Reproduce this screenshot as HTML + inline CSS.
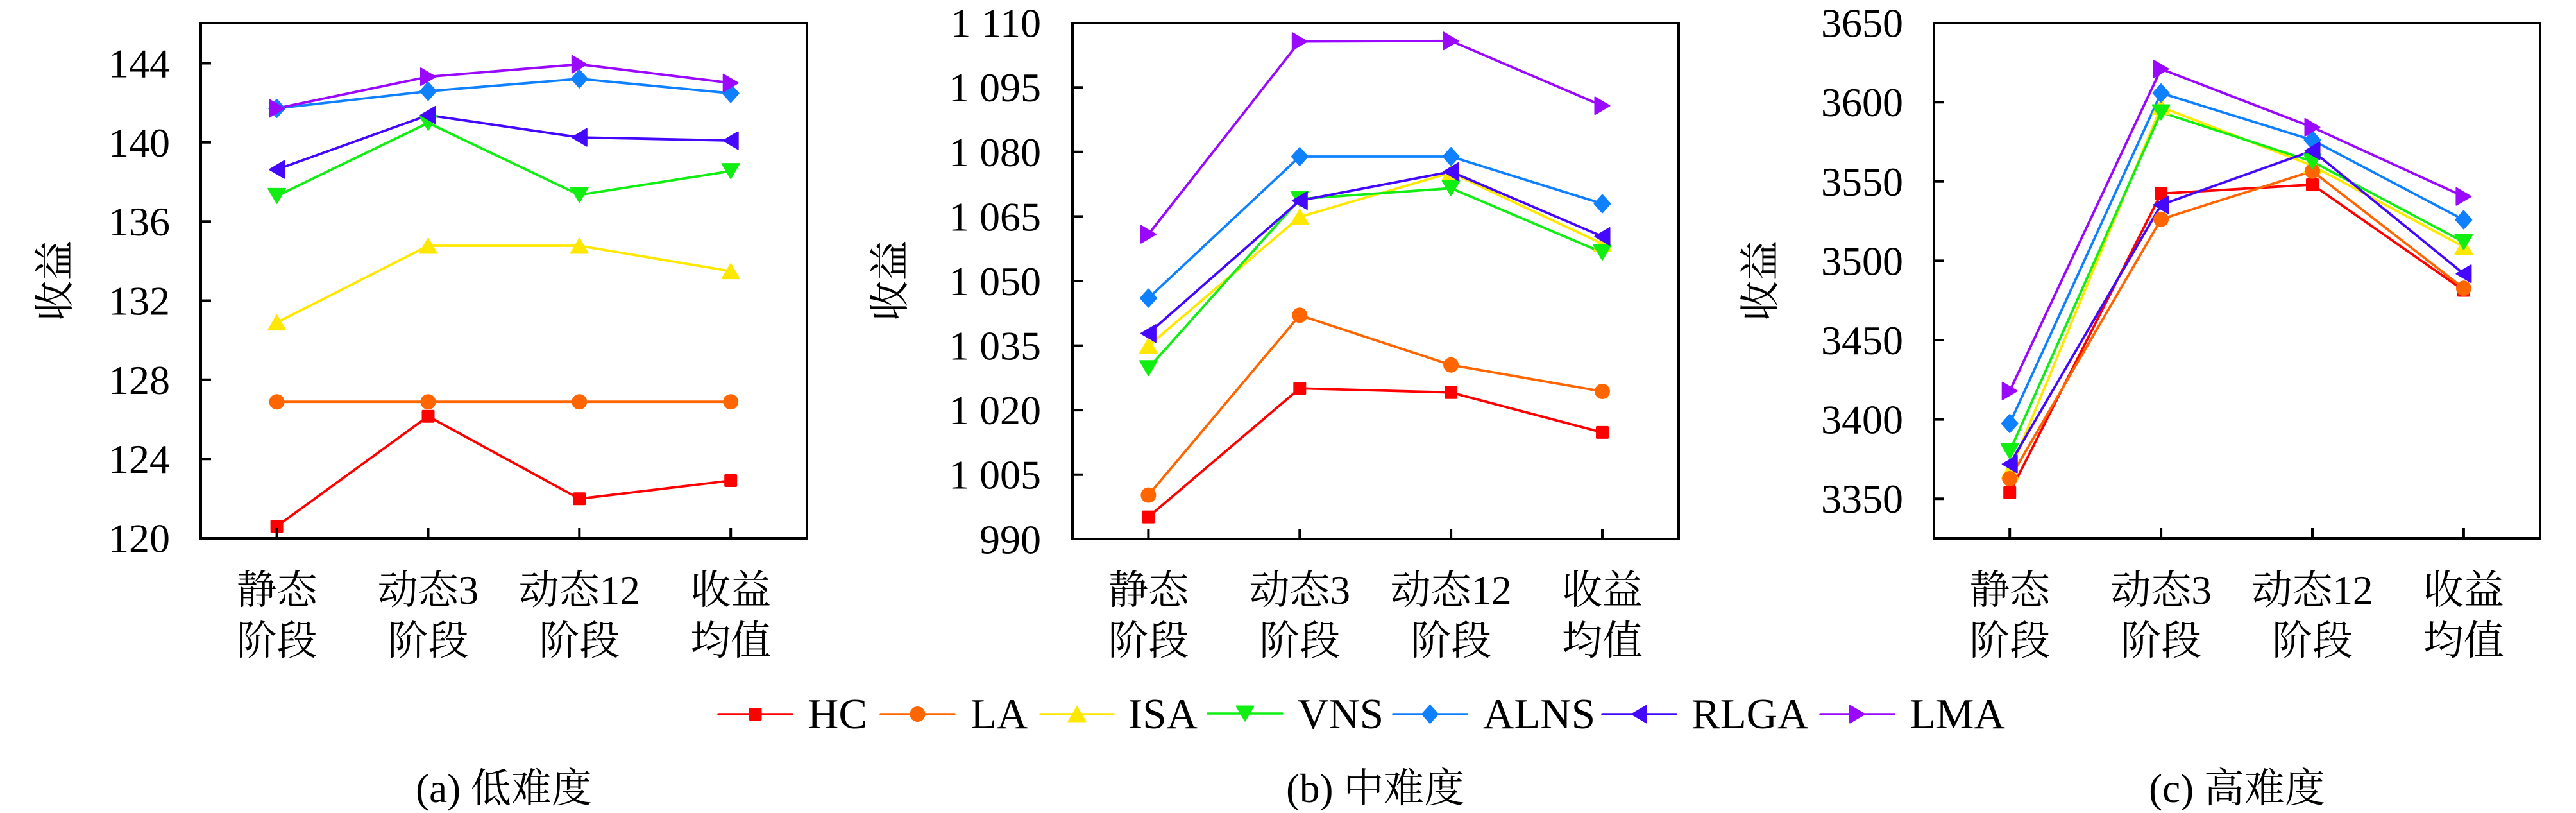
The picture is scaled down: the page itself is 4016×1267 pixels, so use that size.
<!DOCTYPE html>
<html>
<head>
<meta charset="utf-8">
<style>
html,body{margin:0;padding:0;background:#fff;}
svg{display:block;}
svg text{font-family:"Liberation Serif","Times New Roman",Times,Tinos,"Nimbus Roman","DejaVu Serif","Noto Serif CJK SC",serif;}
svg .cj{font-family:"Liberation Serif","Times New Roman",Times,Tinos,"Noto Serif CJK SC","Noto Sans CJK SC",serif;}
</style>
</head>
<body>
<svg width="4016" height="1267" viewBox="0 0 4016 1267" xmlns="http://www.w3.org/2000/svg">
<defs>
  <rect id="mHC" x="-10" y="-10" width="20" height="20" rx="2" fill="#ff0000"/>
  <circle id="mLA" cx="0" cy="0" r="12" fill="#ff6600"/>
  <polygon id="mISA" points="0,-11.5 -13.5,11.5 13.5,11.5" fill="#ffe800" stroke="#ffe800" stroke-width="2" stroke-linejoin="round"/>
  <polygon id="mVNS" points="-13.5,-11.5 13.5,-11.5 0,11.5" fill="#11ee11" stroke="#11ee11" stroke-width="2" stroke-linejoin="round"/>
  <polygon id="mALNS" points="0,-14 12.5,0 0,14 -12.5,0" fill="#0f80ff" stroke="#0f80ff" stroke-width="2" stroke-linejoin="round"/>
  <polygon id="mRLGA" points="-11.5,0 11.5,-13.5 11.5,13.5" fill="#4408ff" stroke="#4408ff" stroke-width="2" stroke-linejoin="round"/>
  <polygon id="mLMA" points="11.5,0 -11.5,-13.5 -11.5,13.5" fill="#9a08ff" stroke="#9a08ff" stroke-width="2" stroke-linejoin="round"/>
</defs>

<g fill="none" stroke-width="3.8" stroke-linejoin="round" stroke-linecap="round">
<polyline stroke="#ff0000" points="431.6,820.1 667.5,648.8 903.3,777.3 1139.2,749"/>
<polyline stroke="#ff6600" points="431.6,626.2 667.5,626.2 903.3,626.2 1139.2,626.2"/>
<polyline stroke="#ffe800" points="431.6,502.6 667.5,383 903.3,383 1139.2,422.6"/>
<polyline stroke="#11ee11" points="431.6,305.4 667.5,191.5 903.3,303.8 1139.2,266.6"/>
<polyline stroke="#0f80ff" points="431.6,168.9 667.5,142.2 903.3,122.8 1139.2,145.4"/>
<polyline stroke="#4408ff" points="431.6,264.2 667.5,179.4 903.3,214.1 1139.2,219"/>
<polyline stroke="#9a08ff" points="431.6,168.9 667.5,119.6 903.3,100.2 1139.2,129.3"/>

<polyline stroke="#ff0000" points="1790.4,805.6 2026.3,605.2 2262.1,611.7 2498,673.9"/>
<polyline stroke="#ff6600" points="1790.4,771.6 2026.3,491.3 2262.1,568.8 2498,610"/>
<polyline stroke="#ffe800" points="1790.4,539 2026.3,338 2262.1,269.1 2498,379.8"/>
<polyline stroke="#11ee11" points="1790.4,573.7 2026.3,310 2262.1,293.3 2498,393.5"/>
<polyline stroke="#0f80ff" points="1790.4,464.6 2026.3,244 2262.1,244 2498,317.5"/>
<polyline stroke="#4408ff" points="1790.4,519.6 2026.3,312.7 2262.1,267.5 2498,368.5"/>
<polyline stroke="#9a08ff" points="1790.4,365.2 2026.3,64.6 2262.1,63.8 2498,164.8"/>

<polyline stroke="#ff0000" points="3133.2,767.7 3369.1,301.7 3605,287.7 3840.9,452.5"/>
<polyline stroke="#ff6600" points="3133.2,746 3369.1,341.7 3605,266.7 3840.9,449.3"/>
<polyline stroke="#ffe800" points="3133.2,735 3369.1,166.7 3605,258.3 3840.9,384.6"/>
<polyline stroke="#11ee11" points="3133.2,703.3 3369.1,175 3605,251.7 3840.9,377.3"/>
<polyline stroke="#0f80ff" points="3133.2,660 3369.1,145 3605,218.3 3840.9,342.6"/>
<polyline stroke="#4408ff" points="3133.2,723.3 3369.1,319.3 3605,235 3840.9,426.6"/>
<polyline stroke="#9a08ff" points="3133.2,609.3 3369.1,107.5 3605,198.3 3840.9,306.2"/>
</g>

<use href="#mHC" x="431.6" y="820.1"/><use href="#mHC" x="667.5" y="648.8"/><use href="#mHC" x="903.3" y="777.3"/><use href="#mHC" x="1139.2" y="749"/>
<use href="#mLA" x="431.6" y="626.2"/><use href="#mLA" x="667.5" y="626.2"/><use href="#mLA" x="903.3" y="626.2"/><use href="#mLA" x="1139.2" y="626.2"/>
<use href="#mISA" x="431.6" y="502.6"/><use href="#mISA" x="667.5" y="383"/><use href="#mISA" x="903.3" y="383"/><use href="#mISA" x="1139.2" y="422.6"/>
<use href="#mVNS" x="431.6" y="305.4"/><use href="#mVNS" x="667.5" y="191.5"/><use href="#mVNS" x="903.3" y="303.8"/><use href="#mVNS" x="1139.2" y="266.6"/>
<use href="#mALNS" x="431.6" y="168.9"/><use href="#mALNS" x="667.5" y="142.2"/><use href="#mALNS" x="903.3" y="122.8"/><use href="#mALNS" x="1139.2" y="145.4"/>
<use href="#mRLGA" x="431.6" y="264.2"/><use href="#mRLGA" x="667.5" y="179.4"/><use href="#mRLGA" x="903.3" y="214.1"/><use href="#mRLGA" x="1139.2" y="219"/>
<use href="#mLMA" x="431.6" y="168.9"/><use href="#mLMA" x="667.5" y="119.6"/><use href="#mLMA" x="903.3" y="100.2"/><use href="#mLMA" x="1139.2" y="129.3"/>

<use href="#mHC" x="1790.4" y="805.6"/><use href="#mHC" x="2026.3" y="605.2"/><use href="#mHC" x="2262.1" y="611.7"/><use href="#mHC" x="2498" y="673.9"/>
<use href="#mLA" x="1790.4" y="771.6"/><use href="#mLA" x="2026.3" y="491.3"/><use href="#mLA" x="2262.1" y="568.8"/><use href="#mLA" x="2498" y="610"/>
<use href="#mISA" x="1790.4" y="539"/><use href="#mISA" x="2026.3" y="338"/><use href="#mISA" x="2262.1" y="269.1"/><use href="#mISA" x="2498" y="379.8"/>
<use href="#mVNS" x="1790.4" y="573.7"/><use href="#mVNS" x="2026.3" y="310"/><use href="#mVNS" x="2262.1" y="293.3"/><use href="#mVNS" x="2498" y="393.5"/>
<use href="#mALNS" x="1790.4" y="464.6"/><use href="#mALNS" x="2026.3" y="244"/><use href="#mALNS" x="2262.1" y="244"/><use href="#mALNS" x="2498" y="317.5"/>
<use href="#mRLGA" x="1790.4" y="519.6"/><use href="#mRLGA" x="2026.3" y="312.7"/><use href="#mRLGA" x="2262.1" y="267.5"/><use href="#mRLGA" x="2498" y="368.5"/>
<use href="#mLMA" x="1790.4" y="365.2"/><use href="#mLMA" x="2026.3" y="64.6"/><use href="#mLMA" x="2262.1" y="63.8"/><use href="#mLMA" x="2498" y="164.8"/>

<use href="#mHC" x="3133.2" y="767.7"/><use href="#mHC" x="3369.1" y="301.7"/><use href="#mHC" x="3605" y="287.7"/><use href="#mHC" x="3840.9" y="452.5"/>
<use href="#mISA" x="3133.2" y="735"/><use href="#mISA" x="3369.1" y="166.7"/><use href="#mISA" x="3605" y="258.3"/><use href="#mISA" x="3840.9" y="384.6"/>
<use href="#mLA" x="3133.2" y="746"/><use href="#mLA" x="3369.1" y="341.7"/><use href="#mLA" x="3605" y="266.7"/><use href="#mLA" x="3840.9" y="449.3"/>
<use href="#mVNS" x="3133.2" y="703.3"/><use href="#mVNS" x="3369.1" y="175"/><use href="#mVNS" x="3605" y="251.7"/><use href="#mVNS" x="3840.9" y="377.3"/>
<use href="#mALNS" x="3133.2" y="660"/><use href="#mALNS" x="3369.1" y="145"/><use href="#mALNS" x="3605" y="218.3"/><use href="#mALNS" x="3840.9" y="342.6"/>
<use href="#mRLGA" x="3133.2" y="723.3"/><use href="#mRLGA" x="3369.1" y="319.3"/><use href="#mRLGA" x="3605" y="235"/><use href="#mRLGA" x="3840.9" y="426.6"/>
<use href="#mLMA" x="3133.2" y="609.3"/><use href="#mLMA" x="3369.1" y="107.5"/><use href="#mLMA" x="3605" y="198.3"/><use href="#mLMA" x="3840.9" y="306.2"/>

<g fill="none" stroke="#000" stroke-width="4">
  <rect x="313" y="36" width="945" height="803"/>
  <rect x="1672" y="36" width="945" height="804"/>
  <rect x="3015" y="36" width="945" height="803"/>
  <path d="M313 98.5h16M313 221.8h16M313 345.2h16M313 468.5h16M313 591.8h16M313 715.2h16"/>
  <path d="M431.6 839v-16M667.5 839v-16M903.3 839v-16M1139.2 839v-16"/>
  <path d="M1672 136.2h16M1672 236.8h16M1672 337.4h16M1672 438h16M1672 538.6h16M1672 639.1h16M1672 739.7h16"/>
  <path d="M1790.4 840v-16M2026.3 840v-16M2262.1 840v-16M2498 840v-16"/>
  <path d="M3015 159.2h16M3015 282.8h16M3015 406.4h16M3015 530h16M3015 653.6h16M3015 777.2h16"/>
  <path d="M3133.2 839v-16M3369.1 839v-16M3605 839v-16M3840.9 839v-16"/>
</g>

<g font-size="64" fill="#000" text-anchor="end">
  <text x="265" y="120.5">144</text>
  <text x="265" y="243.8">140</text>
  <text x="265" y="367.2">136</text>
  <text x="265" y="490.5">132</text>
  <text x="265" y="613.8">128</text>
  <text x="265" y="737.2">124</text>
  <text x="265" y="860.5">120</text>

  <text x="1623" y="57.6">1 110</text>
  <text x="1623" y="158.2">1 095</text>
  <text x="1623" y="258.8">1 080</text>
  <text x="1623" y="359.4">1 065</text>
  <text x="1623" y="460">1 050</text>
  <text x="1623" y="560.6">1 035</text>
  <text x="1623" y="661.1">1 020</text>
  <text x="1623" y="761.7">1 005</text>
  <text x="1623" y="862.3">990</text>

  <text x="2967" y="57.6">3650</text>
  <text x="2967" y="181.2">3600</text>
  <text x="2967" y="304.8">3550</text>
  <text x="2967" y="428.4">3500</text>
  <text x="2967" y="552">3450</text>
  <text x="2967" y="675.6">3400</text>
  <text x="2967" y="799.2">3350</text>
</g>

<g font-size="63" fill="#000" text-anchor="middle">
  <text class="cj" transform="translate(107,437.5) rotate(-90)">收益</text>
  <text class="cj" transform="translate(1409,437.5) rotate(-90)">收益</text>
  <text class="cj" transform="translate(2766,437.5) rotate(-90)">收益</text>

  <text class="cj" x="431.6" y="941">静态</text><text class="cj" x="431.6" y="1020">阶段</text>
  <text class="cj" x="667.5" y="941">动态3</text><text class="cj" x="667.5" y="1020">阶段</text>
  <text class="cj" x="903.3" y="941">动态12</text><text class="cj" x="903.3" y="1020">阶段</text>
  <text class="cj" x="1139.2" y="941">收益</text><text class="cj" x="1139.2" y="1020">均值</text>

  <text class="cj" x="1790.4" y="941">静态</text><text class="cj" x="1790.4" y="1020">阶段</text>
  <text class="cj" x="2026.3" y="941">动态3</text><text class="cj" x="2026.3" y="1020">阶段</text>
  <text class="cj" x="2262.1" y="941">动态12</text><text class="cj" x="2262.1" y="1020">阶段</text>
  <text class="cj" x="2498" y="941">收益</text><text class="cj" x="2498" y="1020">均值</text>

  <text class="cj" x="3133.2" y="941">静态</text><text class="cj" x="3133.2" y="1020">阶段</text>
  <text class="cj" x="3369.1" y="941">动态3</text><text class="cj" x="3369.1" y="1020">阶段</text>
  <text class="cj" x="3605" y="941">动态12</text><text class="cj" x="3605" y="1020">阶段</text>
  <text class="cj" x="3840.9" y="941">收益</text><text class="cj" x="3840.9" y="1020">均值</text>

  <text class="cj" x="785.5" y="1250">(a) 低难度</text>
  <text class="cj" x="2144.2" y="1250">(b) 中难度</text>
  <text class="cj" x="3487.5" y="1250">(c) 高难度</text>
</g>

<g fill="none" stroke-width="3.6" stroke-linecap="round">
  <path stroke="#ff0000" d="M1120 1113H1235"/>
  <path stroke="#ff6600" d="M1373 1113H1488"/>
  <path stroke="#ffe800" d="M1622 1113H1736"/>
  <path stroke="#11ee11" d="M1883 1112H1999"/>
  <path stroke="#0f80ff" d="M2172 1113H2287"/>
  <path stroke="#4408ff" d="M2498 1113H2613"/>
  <path stroke="#9a08ff" d="M2838 1113H2953"/>
</g>
<use href="#mHC" x="1177.5" y="1113"/>
<use href="#mLA" x="1430.5" y="1113"/>
<use href="#mISA" x="1679" y="1113"/>
<use href="#mVNS" x="1941" y="1112"/>
<use href="#mALNS" x="2229.5" y="1113"/>
<use href="#mRLGA" x="2555.5" y="1113"/>
<use href="#mLMA" x="2895.5" y="1113"/>
<g font-size="67" fill="#000">
  <text x="1259" y="1135">HC</text>
  <text x="1513" y="1135">LA</text>
  <text x="1759" y="1135">ISA</text>
  <text x="2023" y="1135">VNS</text>
  <text x="2312" y="1135">ALNS</text>
  <text x="2637" y="1135">RLGA</text>
  <text x="2977" y="1135">LMA</text>
</g>
</svg>
</body>
</html>
